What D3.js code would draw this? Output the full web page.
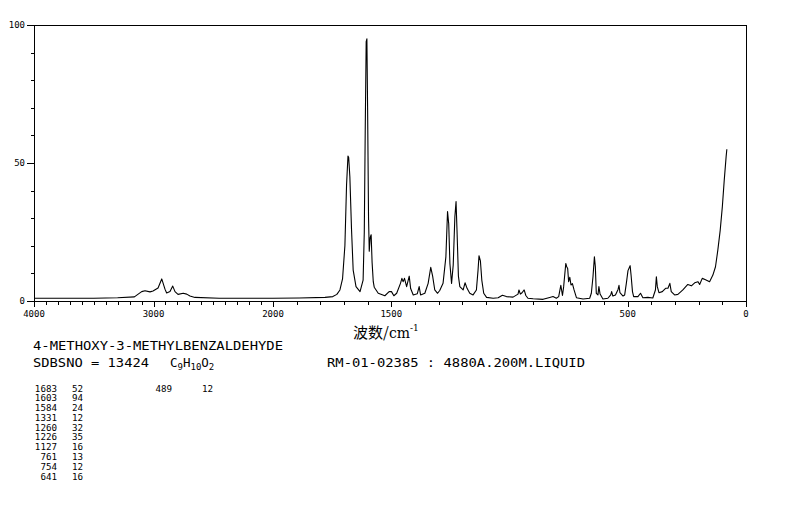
<!DOCTYPE html>
<html><head><meta charset="utf-8">
<script src="https://cdn.jsdelivr.net/npm/d3@7"></script>
<style>
html,body{margin:0;padding:0;background:#fff;}
svg{display:block;}
text{fill:#000;}
</style></head>
<body>
<svg id="chart" width="794" height="510"></svg>
<script>
// ---- data ----
const wavenumbers = [4000,3800,3500,3300,3160,3099,3071,3029,3004,2962,2931,2904,2890,2862,2839,2820,2795,2751,2722,2695,2653,2450,2200,2000,
1890,1780,1747,1730,1717,1706,1696,1689,1683,1680,1675,1668,1661,1649,1632,1619,1614,1610,1606,1603,1600,1596,1593,1589,1585,1581,1576,1572,
1555,1527,1509,1499,1489,1477,1461,1455,1450,1444,1435,1424,1418,1407,1390,1382,1376,1358,1344,1333,1325,1316,1304,1295,1281,1269,1262,1257,
1252,1245,1238,1231,1226,1222,1216,1210,1196,1188,1179,1168,1154,1140,1133,1129,1123,1117,1109,1097,1069,1048,1030,1013,985,964,960,954,947,
938,931,922,900,858,830,816,802,792,783,776,771,762,758,754,750,745,740,734,727,717,689,661,654,647,641,637,633,626,622,617,605,584,572,568,
563,552,541,537,533,520,513,506,499,490,486,480,475,457,446,436,415,394,383,379,375,368,354,340,330,322,316,302,288,267,246,231,217,203,196,
185,171,154,140,129,119,109,100,92,84,81];
const intensities = [1.0,1.0,1.0,1.2,1.5,3.4,3.7,3.3,3.6,4.7,8.0,4.3,2.9,3.4,5.4,3.4,2.4,2.8,2.5,1.8,1.3,1.0,1.0,1.0,
1.1,1.3,1.6,2.4,4.0,8.0,20,42,52.5,52,45,26,11.2,5.2,3.4,7.6,25,62,94,95,70,30,18,23,24,14,7,5.0,
2.8,1.9,3.4,3.4,1.9,2.8,6.4,8.2,7.0,8.2,5.2,9.0,4.5,2.2,2.6,5.2,2.2,2.8,6.4,12.2,9,4.0,2.8,3.8,6.4,16,32.4,28,
13.6,6.4,13,30.5,36,25.7,9,5.2,4.0,6.6,4.5,2.8,2.2,4,11.2,16.4,14.5,7.5,2.8,1.3,1.0,1.2,2.1,1.6,1.4,2.5,4.0,2.5,3.0,
4.0,2.0,1.0,0.8,0.6,1.3,1.6,1.0,1.6,5.7,2.0,5.2,13.6,12.4,11.8,7.0,8.6,5.8,6.3,4.0,1.2,0.7,1.0,2.8,8.8,16,12.4,2.8,2.2,5.2,2.5,0.7,1.0,2.2,3.4,
1.8,2.2,4.2,5.7,3.0,1.8,2.2,6.4,11,12.8,9.4,3.4,1.6,1.6,2.8,1.2,1.3,1.1,4.0,8.8,5.2,3.0,3.4,4.6,4.6,6.4,3.4,2.2,2.4,4.0,6.0,5.5,6.6,7.0,6.0,
8.2,7.7,7.0,9.4,12.4,18.5,25.7,34.2,43.8,52.3,55];

const xTickLabels = [4000,3000,2000,1500,500,0];
const yTickLabels = [0,50,100];
const peakWavenumbers = ["1683","1603","1584","1331","1260","1226","1127","761","754","641"];
const peakIntensities = ["52","94","24","12","32","35","16","13","12","16"];
const peakWavenumbers2 = ["489"];
const peakIntensities2 = ["12"];
const compoundName = "4-METHOXY-3-METHYLBENZALDEHYDE";
const sdbsNo = "SDBSNO = 13424";
const measurement = "RM-01-02385 : 4880A.200M.LIQUID";

// ---- layout ----
const svg = d3.select("#chart");
const X0 = 34, X2000 = 273, X1 = 746, Y0 = 301, Y1 = 25;
const x = d3.scaleLinear().domain([4000, 2000, 0]).range([X0, X2000, X1]);
const y = d3.scaleLinear().domain([0, 100]).range([Y0, Y1]);
const mono = "'DejaVu Sans Mono', 'Liberation Mono', monospace";

// frame
svg.append("rect").attr("x", X0).attr("y", Y1).attr("width", X1 - X0).attr("height", Y0 - Y1)
  .attr("fill", "none").attr("stroke", "#000").attr("stroke-width", 1).attr("shape-rendering", "crispEdges");

// x ticks (every 100)
const xMinor = d3.range(0, 4001, 100);
svg.append("g").selectAll("line").data(xMinor).join("line")
  .attr("x1", d => Math.round(x(d)) + 0.5).attr("x2", d => Math.round(x(d)) + 0.5)
  .attr("y1", Y0).attr("y2", d => xTickLabels.includes(d) ? Y0 + 6 : Y0 + 4)
  .attr("stroke", "#000").attr("stroke-width", 1);
svg.append("g").selectAll("text").data(xTickLabels).join("text")
  .attr("x", d => x(d)).attr("y", 317)
  .attr("text-anchor", "middle").attr("font-family", mono).attr("font-size", 9)
  .text(d => d);

// y ticks (every 10)
const yMinor = d3.range(0, 101, 10);
svg.append("g").selectAll("line").data(yMinor).join("line")
  .attr("x1", d => yTickLabels.includes(d) ? X0 - 7 : X0 - 3).attr("x2", X0)
  .attr("y1", d => Math.round(y(d)) + 0.5).attr("y2", d => Math.round(y(d)) + 0.5)
  .attr("stroke", "#000").attr("stroke-width", 1);
svg.append("g").selectAll("text").data(yTickLabels).join("text")
  .attr("x", 25).attr("y", d => y(d) + 3)
  .attr("text-anchor", "end").attr("font-family", mono).attr("font-size", 9)
  .text(d => d);

// spectrum
const pts = wavenumbers.map((w, i) => [w, intensities[i]]);
const line = d3.line().x(d => x(d[0])).y(d => y(d[1]));
svg.append("path").datum(pts).attr("d", line)
  .attr("fill", "none").attr("stroke", "#000").attr("stroke-width", 1.1).attr("stroke-linejoin", "round");

// x-axis title
const xt = svg.append("text").attr("x", 353).attr("y", 338)
  .attr("font-family", "'Noto Sans CJK SC', sans-serif").attr("font-size", 15);
xt.append("tspan").text("波数/");
xt.append("tspan").attr("font-family", "'DejaVu Serif', serif").attr("font-size", 14).text("cm");
xt.append("tspan").attr("font-family", "'DejaVu Serif', serif").attr("font-size", 9).attr("dy", -7).text("-1");

// header text
svg.append("text").attr("x", 33).attr("y", 350).attr("font-family", mono).attr("font-size", 12.5)
  .attr("textLength", 250).attr("lengthAdjust", "spacingAndGlyphs").text(compoundName);
svg.append("text").attr("x", 33).attr("y", 367).attr("font-family", mono).attr("font-size", 12.5)
  .attr("textLength", 116).attr("lengthAdjust", "spacingAndGlyphs").text(sdbsNo);
const f = svg.append("text").attr("x", 170).attr("y", 367).attr("font-family", mono).attr("font-size", 12.5);
f.append("tspan").text("C");
f.append("tspan").attr("font-size", 9).attr("dy", 3).text("9");
f.append("tspan").attr("font-size", 12.5).attr("dy", -3).text("H");
f.append("tspan").attr("font-size", 9).attr("dy", 3).text("10");
f.append("tspan").attr("font-size", 12.5).attr("dy", -3).text("O");
f.append("tspan").attr("font-size", 9).attr("dy", 3).text("2");
svg.append("text").attr("x", 327).attr("y", 367).attr("font-family", mono).attr("font-size", 12.5)
  .attr("textLength", 258).attr("lengthAdjust", "spacingAndGlyphs").text(measurement);

// peak table
const rowY = i => 391.5 + i * 9.78;
const tbl = svg.append("g").attr("font-family", mono).attr("font-size", 9.2);
tbl.selectAll("text.pw").data(peakWavenumbers).join("text").attr("class", "pw")
  .attr("x", 57).attr("y", (d, i) => rowY(i)).attr("text-anchor", "end").text(d => d);
tbl.selectAll("text.pi").data(peakIntensities).join("text").attr("class", "pi")
  .attr("x", 83).attr("y", (d, i) => rowY(i)).attr("text-anchor", "end").text(d => d);
tbl.selectAll("text.pw2").data(peakWavenumbers2).join("text").attr("class", "pw2")
  .attr("x", 172).attr("y", (d, i) => rowY(i)).attr("text-anchor", "end").text(d => d);
tbl.selectAll("text.pi2").data(peakIntensities2).join("text").attr("class", "pi2")
  .attr("x", 213).attr("y", (d, i) => rowY(i)).attr("text-anchor", "end").text(d => d);
</script>
</body></html>
